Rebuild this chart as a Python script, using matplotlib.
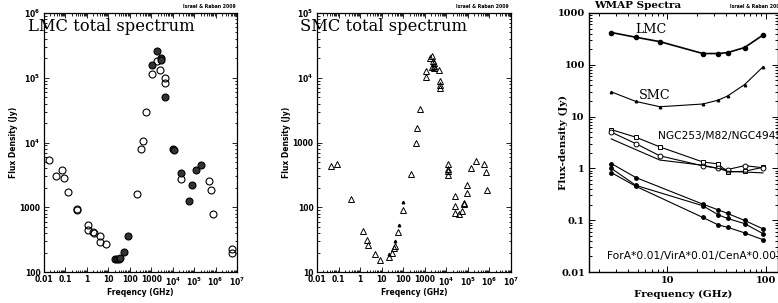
import numpy as np
import matplotlib
matplotlib.use('Agg')
import matplotlib.pyplot as plt
from matplotlib.ticker import LogLocator, FuncFormatter, NullFormatter, FixedLocator

# --- LMC total spectrum (GHz, Jy) ---
lmc_open_f = [0.017, 0.037, 0.071, 0.085, 0.135, 0.35, 0.35, 1.16, 1.16, 2.0, 2.1, 4.2, 4.1,
              7.4, 209, 340, 410, 545, 1120, 1830, 2630, 4470, 4470, 23400, 490000, 630000,
              780000, 5.9e6, 5.9e6]
lmc_open_s = [5300, 3000, 3700, 2830, 1720, 930, 920, 525, 440, 410, 400, 355, 295,
              270, 1620, 7850, 10500, 29900, 116000, 181000, 133000, 98000, 84000, 2760, 2500, 1820,
              780, 229, 200]
lmc_fill_f = [19.6, 25, 30, 36, 53, 82, 1120, 1830, 2730, 2800, 4470, 10500, 11000,
              23400, 56800, 76000, 126000, 215000]
lmc_fill_s = [158, 158, 158, 162, 204, 365, 157000, 259000, 202000, 186000, 51000, 7850, 7600,
              3420, 1240, 2230, 3780, 4500]

# --- SMC total spectrum (GHz, Jy) ---
smc_open_f = [0.043, 0.082, 0.39, 1.36, 2.09, 2.3, 4.7, 8.07, 21.9, 31.3, 37.5, 41.7, 59, 93,
              238, 392, 449, 617, 1175, 1175, 1810, 2090, 2320, 2200, 2750, 2750, 2750, 4400,
              5250, 5250, 5250, 11900, 11900, 11900, 11900, 26100, 26100, 26100, 40100, 51400,
              63000, 67600, 87700, 87700, 134000, 238000, 537000, 667000, 795000]
smc_open_s = [429, 471, 136, 43, 31.6, 26.4, 19.2, 15.3, 17.1, 19.6, 23.8, 25, 41, 89.6,
              326, 970, 1675, 3330, 10300, 12600, 20400, 21900, 18100, 14800, 17000, 15400, 14000, 13000,
              8800, 7600, 7000, 471, 394, 363, 311, 149, 105, 82, 79.5, 86.5,
              111, 117, 166, 223, 408, 518, 460, 355, 183]
smc_small_f = [23, 41, 61, 94]
smc_small_s = [19, 30, 53, 119]

# --- WMAP spectra ---
wmap_f = [2.7, 4.8, 8.4, 23, 33, 41, 61, 94]
lmc_w = [420, 340, 280, 165, 165, 172, 215, 375]
smc_w = [30, 19.6, 15.5, 17.5, 20.8, 25, 41.5, 91]
ngc253_w = [5.6, 4.0, 2.6, 1.33, 1.22, 0.85, 0.88, 1.05]
m82_w = [5.0, 3.0, 1.75, 1.12, 1.0, 0.95, 1.13, 1.03]
ngc4945_w = [3.7, 2.3, 1.45, 1.15, 1.0, 0.88, 0.85, 0.82]
radio_f = [2.7, 4.8, 23, 33, 41, 61, 94]
fora_w = [1.24, 0.665, 0.204, 0.158, 0.135, 0.099, 0.068]
vira_w = [1.0, 0.47, 0.19, 0.127, 0.108, 0.086, 0.055]
cena_w = [0.83, 0.45, 0.113, 0.081, 0.073, 0.057, 0.042]

W, H = 778, 303
fig = plt.figure(figsize=(W / 100, H / 100), dpi=100)


def box(l, t, r, b):
    return [l / W, 1 - b / H, (r - l) / W, (b - t) / H]


def sed_fmt(v, pos):
    e = int(round(np.log10(v)))
    if e >= 4:
        return r'$\mathbf{10^{%d}}$' % e
    return '{:g}'.format(v)


def style_sed(ax, ylo, yhi):
    ax.set_xscale('log')
    ax.set_yscale('log')
    ax.set_xlim(0.01, 1e7)
    ax.set_ylim(ylo, yhi)
    for a in (ax.xaxis, ax.yaxis):
        a.set_major_locator(LogLocator(base=10, numticks=20))
        a.set_minor_locator(LogLocator(base=10, subs=np.arange(2, 10), numticks=20))
        a.set_major_formatter(FuncFormatter(sed_fmt))
        a.set_minor_formatter(NullFormatter())
    ax.tick_params(which='both', direction='in', top=True, right=True, width=0.6,
                   labelsize=5.5, pad=2.5)
    ax.tick_params(which='major', length=3.5)
    ax.tick_params(which='minor', length=1.8)
    for lbl in ax.get_xticklabels() + ax.get_yticklabels():
        lbl.set_fontweight('bold')
    ax.set_xlabel('Freqency (GHz)', fontsize=5.5, fontweight='bold')
    ax.set_ylabel('Flux Density (Jy)', fontsize=5.5, fontweight='bold')
    ax.xaxis.set_label_coords(0.5, -0.062)
    ax.yaxis.set_label_coords(-0.133, 0.5)
    for s in ax.spines.values():
        s.set_linewidth(0.9)


# LMC panel
ax1 = fig.add_axes(box(44, 13, 237, 272))
style_sed(ax1, 100, 1e6)
ax1.plot(lmc_open_f, lmc_open_s, 'o', mfc='none', mec='black', ms=5, mew=0.8)
ax1.plot(lmc_fill_f, lmc_fill_s, 'o', mfc='#333333', mec='black', ms=5, mew=0.8)
ax1.text(-0.083, 0.946, 'LMC total spectrum', transform=ax1.transAxes,
         family='DejaVu Serif', fontsize=11.8, ha='left', va='center')
fig.text(236 / W, 1 - 6 / H, 'Israel & Raban 2009', fontsize=3.3, fontweight='bold',
         ha='right', va='center')

# SMC panel
ax2 = fig.add_axes(box(317, 13, 511, 272))
style_sed(ax2, 10, 1e5)
ax2.plot(smc_open_f, smc_open_s, '^', mfc='none', mec='black', ms=4, mew=0.7)
ax2.plot(smc_small_f, smc_small_s, '^', mfc='black', mec='black', ms=1.8)
ax2.text(-0.088, 0.946, 'SMC total spectrum', transform=ax2.transAxes,
         family='DejaVu Serif', fontsize=11.8, ha='left', va='center')
fig.text(509 / W, 1 - 6 / H, 'Israel & Raban 2009', fontsize=3.3, fontweight='bold',
         ha='right', va='center')

# WMAP panel
ax3 = fig.add_axes(box(589, 13, 777.5, 272))
ax3.set_xscale('log')
ax3.set_yscale('log')
ax3.set_xlim(1.6, 132)
ax3.set_ylim(0.01, 1000)
ax3.plot(wmap_f, lmc_w, '-o', color='black', lw=1.2, ms=3)
ax3.plot(wmap_f, smc_w, '-^', color='black', lw=0.8, ms=1.8)
ax3.plot(wmap_f, ngc253_w, '-s', color='black', lw=0.8, ms=3, mfc='white', mew=0.7)
ax3.plot(wmap_f, m82_w, '-o', color='black', lw=0.8, ms=3.5, mfc='white', mew=0.7)
ax3.plot(wmap_f, ngc4945_w, '-', color='black', lw=0.8)
ax3.plot(radio_f, fora_w, '-o', color='black', lw=0.8, ms=2.5)
ax3.plot(radio_f, vira_w, '-o', color='black', lw=0.8, ms=2.5)
ax3.plot(radio_f, cena_w, '-o', color='black', lw=0.8, ms=2.5)
ax3.text(6.76, 475, 'LMC', family='DejaVu Serif', fontsize=9.2, ha='center', va='center')
ax3.text(7.5, 26, 'SMC', family='DejaVu Serif', fontsize=9.2, ha='center', va='center')
ax3.text(8.1, 4.3, 'NGC253/M82/NGC4945', fontsize=7.7, ha='left', va='center', clip_on=False)
ax3.text(2.43, 0.02, 'ForA*0.01/VirA*0.01/CenA*0.001', fontsize=7.7, ha='left', va='center',
         clip_on=False)
ax3.xaxis.set_major_locator(FixedLocator([10, 100]))
ax3.xaxis.set_minor_locator(LogLocator(base=10, subs=np.arange(2, 10), numticks=20))
ax3.xaxis.set_major_formatter(FuncFormatter(lambda v, p: '{:g}'.format(v)))
ax3.xaxis.set_minor_formatter(NullFormatter())
ax3.yaxis.set_major_locator(LogLocator(base=10, numticks=20))
ax3.yaxis.set_minor_locator(LogLocator(base=10, subs=np.arange(2, 10), numticks=20))
ax3.yaxis.set_major_formatter(FuncFormatter(lambda v, p: '{:g}'.format(v)))
ax3.yaxis.set_minor_formatter(NullFormatter())
ax3.tick_params(which='both', direction='in', top=True, right=True, width=0.7,
                labelsize=7, pad=3)
ax3.tick_params(which='major', length=4.5)
ax3.tick_params(which='minor', length=2.3)
for lbl in ax3.get_xticklabels() + ax3.get_yticklabels():
    lbl.set_fontweight('bold')
    lbl.set_family('DejaVu Serif')
ax3.set_xlabel('Frequency (GHz)', fontsize=7.5, fontweight='bold', family='DejaVu Serif')
ax3.set_ylabel('Flux-density (Jy)', fontsize=7.5, fontweight='bold', family='DejaVu Serif')
ax3.xaxis.set_label_coords(0.5, -0.068)
ax3.yaxis.set_label_coords(-0.112, 0.5)
for s in ax3.spines.values():
    s.set_linewidth(1.0)
fig.text(594 / W, 1 - 6 / H, 'WMAP Spectra', fontsize=7.5, fontweight='bold',
         family='DejaVu Serif', ha='left', va='center')
fig.text(730 / W, 1 - 6 / H, 'Israel & Raban 2009', fontsize=3.3, fontweight='bold',
         ha='left', va='center')

fig.savefig('out.png', dpi=100)
